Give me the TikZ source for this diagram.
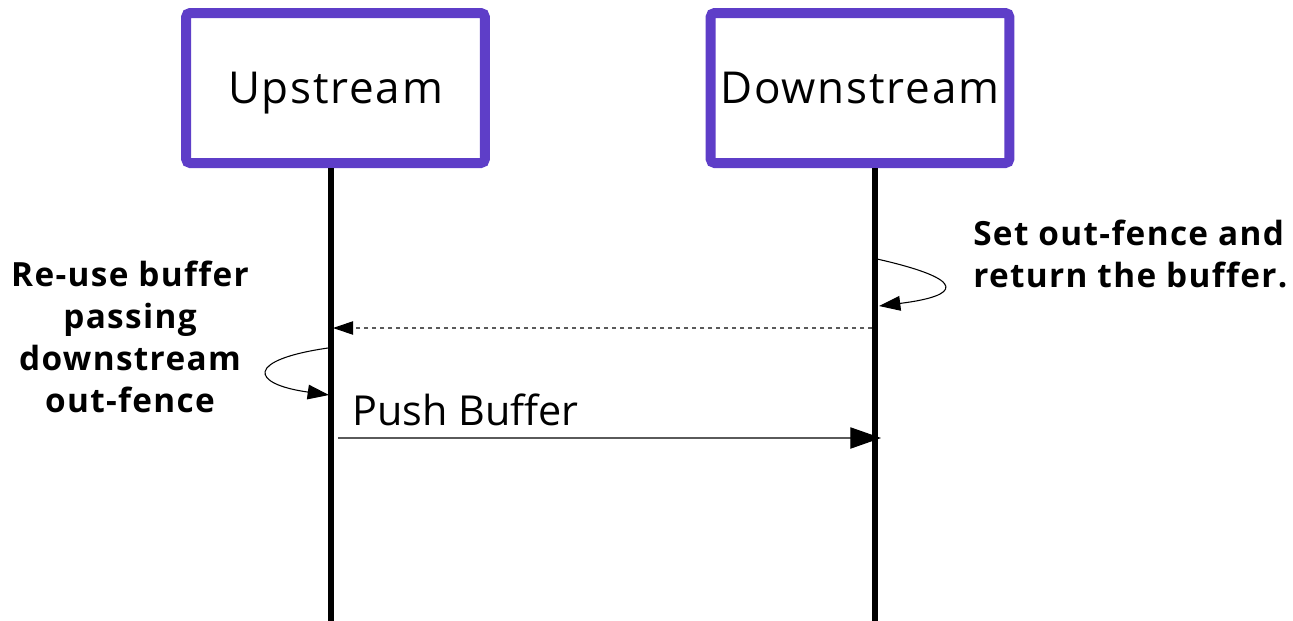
\documentclass[tikz,border=0pt]{standalone}
\usepackage{fontspec}
\setmainfont[Ligatures=NoCommon]{Open Sans}
\usetikzlibrary{arrows.meta, positioning}
\definecolor{lanepurple}{RGB}{94,62,200}
\definecolor{msggray}{RGB}{90,90,90}

\begin{document}
\begin{tikzpicture}[x=0.75pt, y=-0.75pt,
    actor/.style={draw=lanepurple, line width=7.5pt, rounded corners=3pt,
        minimum width=224pt, minimum height=112.5pt, inner sep=0pt,
        text depth=0pt,
        font=\fontsize{33}{40}\selectfont\addfontfeatures{LetterSpace=4}},
    lifeline/.style={line width=4.5pt},
    note/.style={font=\bfseries\fontsize{25}{31.5}\selectfont\addfontfeatures{LetterSpace=4},
        inner sep=0pt},
    selfmsg/.style={line width=0.8pt, -{Triangle[length=16pt, width=11pt]}},
    reply/.style={line width=0.8pt, msggray, dash pattern=on 3pt off 3pt,
        -{Triangle[length=15pt, width=10pt, color=black]}},
    push/.style={line width=0.8pt, msggray,
        -{Triangle[length=23pt, width=16pt, color=black]}}]
    \useasboundingbox (0,0) rectangle (1293,621);

    % actors
    \node[actor] (up) at (335.5,88) {Upstream};
    \node[actor] (down) at (860,88) {Downstream};

    % lifelines
    \coordinate (upend) at (331,621);
    \coordinate (downend) at (875,621);
    \draw[lifeline] (upend |- up.south) -- (upend);
    \draw[lifeline] (downend |- down.south) -- (downend);

    % points on the lifelines
    \coordinate (d1) at (877,259);
    \coordinate (d2) at (879,306);
    \coordinate (d3) at (872,328);
    \coordinate (u3) at (333,328);
    \coordinate (u1) at (328,348);
    \coordinate (u2) at (329,395);
    \coordinate (u4) at (338,438);
    \coordinate (d4) at (881,438);

    % messages
    \draw[selfmsg] (d1) .. controls (970,280) and (960,296) .. (d2);
    \draw[reply] (d3) -- (u3);
    \draw[selfmsg] (u1) .. controls (245,360) and (250,384) .. (u2);
    \draw[push] (u4) -- (d4);

    % labels
    \node[note, anchor=west, align=left] (setfence) at (973,254)
        {Set out-fence and\\return the buffer.};
    \node[note, align=center] (reuse) at (130,337)
        {Re-use buffer\\passing\\downstream\\out-fence};
    \node[font=\fontsize{31}{36}\selectfont, anchor=west, inner sep=0pt] (pushlbl) at (352,410)
        {Push Buffer};
\end{tikzpicture}
\end{document}
